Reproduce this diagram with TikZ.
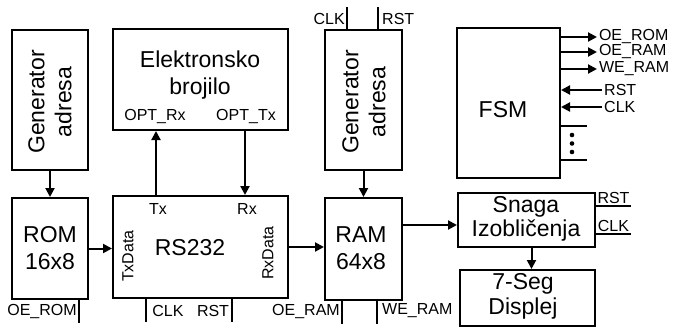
\documentclass[tikz,border=0pt]{standalone}
\usepackage{fontspec}
\setmainfont{Liberation Sans}
\usetikzlibrary{arrows.meta,calc}
\begin{document}
\begin{tikzpicture}[x=1pt,y=-1pt,
 box/.style={draw,line width=2pt,inner sep=0pt},
 big/.style={font=\fontsize{23}{27}\selectfont,align=center,inner sep=0pt},
 small/.style={font=\fontsize{16}{18}\selectfont,inner sep=0pt},
 arr/.style={line width=2pt,-{Triangle[length=9pt,width=9pt]}},
 wire/.style={line width=2pt}]
\useasboundingbox (0,0) rectangle (678,327);
% boxes
\node[box,minimum width=76pt,minimum height=140pt] (genL) at (50,100) {};
\node[box,minimum width=76pt,minimum height=101pt] (rom) at (50,248.5) {};
\node[box,minimum width=175pt,minimum height=101pt] (elek) at (200.5,79.5) {};
\node[box,minimum width=175pt,minimum height=102pt] (rs) at (200.5,247) {};
\node[box,minimum width=77pt,minimum height=140pt] (genM) at (363.5,100) {};
\node[box,minimum width=77pt,minimum height=102pt] (ram) at (363.5,249) {};
\node[box,minimum width=103pt,minimum height=150pt] (fsm) at (508.5,103) {};
\node[box,minimum width=137pt,minimum height=54pt] (snaga) at (526.5,220) {};
\node[box,minimum width=135pt,minimum height=56pt] (seg) at (527.5,298) {};
% texts
\node[big,rotate=90] (genLt) at (50,102) {Generator\\adresa};
\node[big] (romt) at (50,248) {ROM\\16x8};
\node[big] (elekt) at (200,75) {Elektronsko\\brojilo};
\node[small] (optrx) at (155,117) {OPT\_Rx};
\node[small] (opttx) at (246,117) {OPT\_Tx};
\node[big] (rst) at (190,248) {RS232};
\node[small] (tx) at (158,209) {Tx};
\node[small] (rx) at (247,209) {Rx};
\node[small,rotate=90] (txd) at (128,256) {TxData};
\node[small,rotate=90] (rxd) at (268,253) {RxData};
\node[big,rotate=90] (genMt) at (364,102) {Generator\\adresa};
\node[big] (ramt) at (361,248) {RAM\\64x8};
\node[big] (fsmt) at (503,110) {FSM};
\node[big,font=\fontsize{23}{24}\selectfont] (snagat) at (526,219) {Snaga\\Izobličenja};
\node[big,font=\fontsize{23}{25}\selectfont] (segt) at (523,296) {7-Seg\\Displej};
% connectors
\draw[arr] (genL.south) -- (rom.north);
\draw[arr] (rom.east) -- (rom.east -| rs.west);
\draw[arr] (rs.east) -- (rs.east -| ram.west);
\draw[arr] ([xshift=44pt]rs.north west) -- ([xshift=44pt]elek.south west);
\draw[arr] ([xshift=133pt]elek.south west) -- ([xshift=133pt]rs.north west);
\draw[arr] (genM.south) -- (ram.north);
\coordinate (snin) at ([yshift=-5pt]snaga.west);
\draw[arr] (snin -| ram.east) -- (snin);
\coordinate (snout) at ([xshift=5pt]snaga.south);
\draw[arr] (snout) -- (snout |- seg.north);
% ticks and small labels
\draw[wire] ([xshift=68pt]rom.south west) -- ++(0,23);
\node[small] (oerom) at (42,311) {OE\_ROM};
\draw[wire] ([xshift=34pt]rs.south west) -- ++(0,23);
\draw[wire] ([xshift=120pt]rs.south west) -- ++(0,23);
\node[small] (rsclk) at (168,311) {CLK};
\node[small] (rsrst) at (213,311) {RST};
\draw[wire] ([xshift=18pt]ram.south west) -- ++(0,23);
\draw[wire] ([xshift=53pt]ram.south west) -- ++(0,23);
\node[small,anchor=east] (oeram) at (340,311) {OE\_RAM};
\node[small,anchor=west] (weram) at (382,311) {WE\_RAM};
\draw[wire] ([xshift=23pt]genM.north west) -- ++(0,-22);
\draw[wire] ([xshift=54pt]genM.north west) -- ++(0,-22);
\node[small,anchor=east] (gclk) at (345,19) {CLK};
\node[small,anchor=west] (grst) at (382,19) {RST};
% FSM signals
\draw[arr] ([yshift=-10pt]fsm.north east) -- ++(36,0) node[small,anchor=west,inner sep=1pt] (foerom) {OE\_ROM};
\draw[arr] ([yshift=-25pt]fsm.north east) -- ++(36,0) node[small,anchor=west,inner sep=1pt] (foeram) {OE\_RAM};
\draw[arr] ([yshift=-42pt]fsm.north east) -- ++(36,0) node[small,anchor=west,inner sep=1pt] (fweram) {WE\_RAM};
\coordinate (frst) at ([xshift=41pt,yshift=-63pt]fsm.north east);
\coordinate (fclk) at ([xshift=41pt,yshift=-80pt]fsm.north east);
\draw[arr] (frst) -- (frst -| fsm.east);
\draw[arr] (fclk) -- (fclk -| fsm.east);
\node[small,anchor=west] (frstt) at ([xshift=2pt]frst) {RST};
\node[small,anchor=west] (fclkt) at ([xshift=2pt]fclk) {CLK};
\draw[wire] ([yshift=-99pt]fsm.north east) -- ++(26,0);
\draw[wire] ([yshift=-133pt]fsm.north east) -- ++(26,0);
\foreach \yy in {135,143.5,152} \fill (572,\yy) circle (2.3pt);
% Snaga signals
\draw[wire] ([yshift=-14pt]snaga.north east) -- ++(35,0) node[midway,above,small,inner sep=1pt] (srst) {RST};
\draw[wire] ([yshift=-42pt]snaga.north east) -- ++(35,0) node[midway,above,small,inner sep=1pt] (sclk) {CLK};
\end{tikzpicture}
\end{document}
